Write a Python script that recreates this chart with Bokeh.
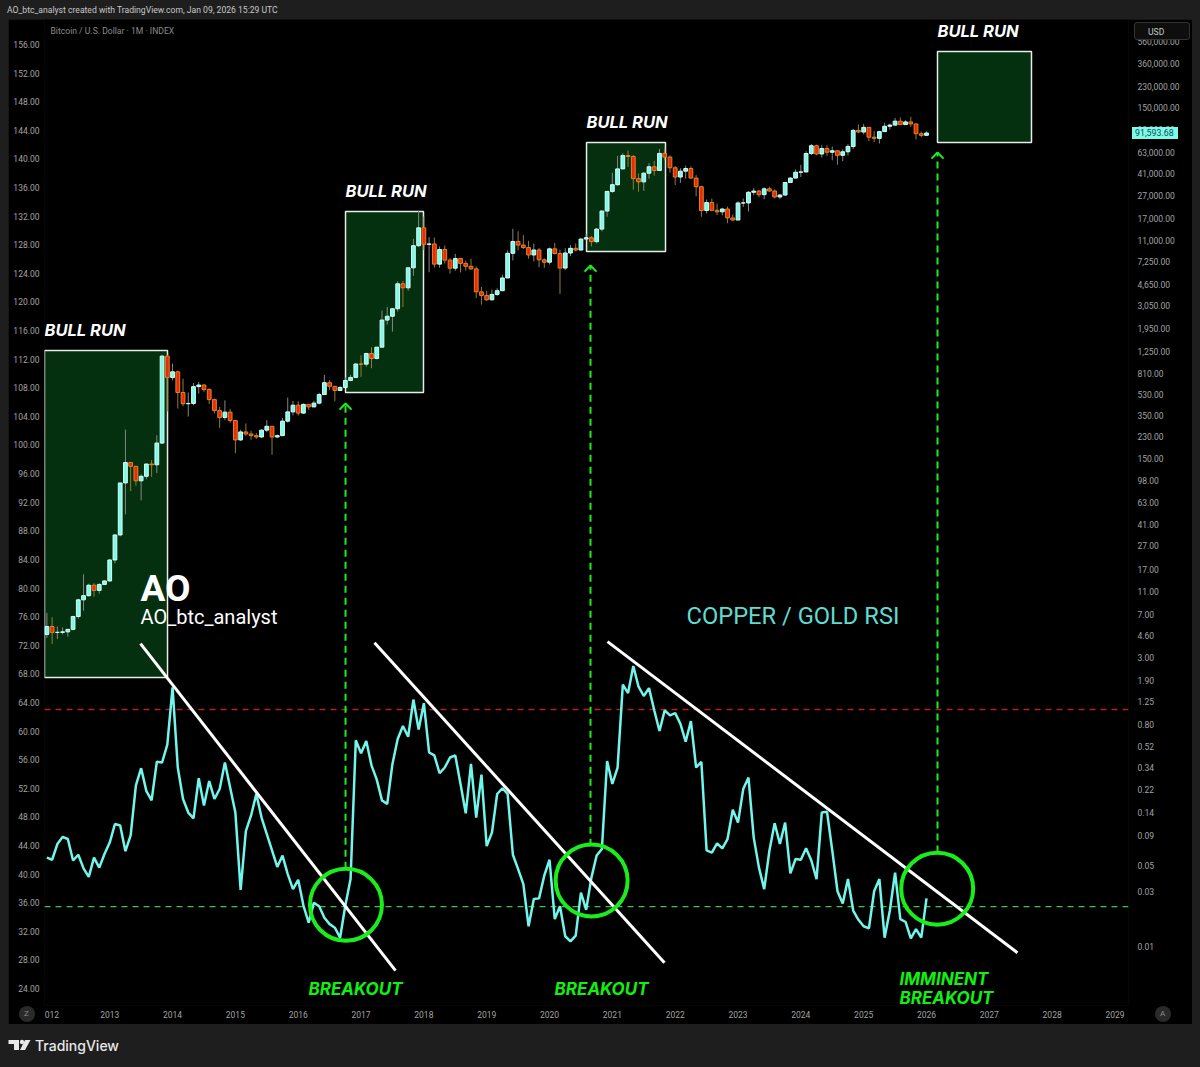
from bokeh.core.properties import value
from bokeh.embed import file_html
from bokeh.layouts import column
from bokeh.models import (Div, FixedTicker, Label, LinearAxis, LogAxis, LogScale,
                          NumeralTickFormatter, Range1d, Span)
from bokeh.plotting import figure
from bokeh.resources import INLINE

# monthly BTC candles, Jan 2012 .. Jan 2026
candle_open = [
    4.7, 5.5, 4.9, 4.9, 4.95, 5.2, 6.7, 9.3, 10.1, 12.4, 11.2, 12.6,
    13.5, 20.4, 33.4, 93, 139, 129, 97, 106, 135, 133, 204, 1130,
    741, 830, 552, 443, 445, 620, 640, 586, 480, 387, 338, 375,
    318, 217, 254, 244, 236, 230, 263, 284, 230, 236, 314, 377,
    430, 368, 437, 416, 448, 530, 670, 624, 575, 609, 700, 743,
    968, 965, 1190, 1080, 1348, 2300, 2480, 2875, 4700, 4340, 6440, 9950,
    14150, 10220, 10300, 6920, 9240, 7490, 6390, 7730, 7020, 6630, 6300, 4010,
    3740, 3430, 3810, 4100, 5270, 8570, 10820, 10080, 9600, 8290, 9150, 7540,
    7190, 9350, 8530, 6410, 8620, 9450, 9140, 11350, 11650, 10780, 13800, 19700,
    29000, 33100, 45200, 58800, 57700, 37300, 35000, 41500, 47100, 43800, 61300, 57000,
    46200, 38500, 43200, 45500, 37700, 31800, 19900, 23300, 20000, 19400, 20500, 17200,
    16500, 23100, 23100, 28500, 29200, 27200, 30500, 29200, 26000, 27000, 34600, 37700,
    42300, 42600, 61200, 71300, 60600, 67500, 62700, 64600, 59000, 63300, 70300, 96400,
    93400, 102400, 84400, 82500, 94200, 104600, 107100, 115700, 108200, 114000, 109500, 90400,
    87500,
]
candle_high = [
    7.2, 6.6, 5.5, 5.4, 5.2, 6.8, 9.5, 15.4, 12.8, 12.9, 12.9, 13.7,
    20.7, 33.6, 93, 266, 140, 130, 110, 136, 146, 238, 1163, 1160,
    977, 850, 726, 552, 665, 680, 650, 600, 490, 415, 473, 400,
    320, 265, 300, 260, 248, 268, 320, 285, 242, 335, 500, 467,
    465, 445, 440, 470, 550, 780, 704, 625, 630, 740, 780, 980,
    1150, 1210, 1350, 1350, 2780, 2980, 2900, 4950, 4980, 6470, 11400, 19800,
    17700, 11800, 11700, 9800, 10000, 7780, 8480, 7780, 7420, 7700, 6600, 4420,
    4100, 4200, 4310, 5640, 9080, 13900, 13200, 12300, 10950, 10370, 9520, 7750,
    9590, 10500, 9190, 9470, 10080, 10390, 11450, 12470, 12050, 14100, 19900, 29300,
    41900, 58300, 61700, 64900, 59500, 41300, 42400, 50500, 52900, 67000, 69000, 59100,
    47900, 45800, 48200, 47400, 40000, 32400, 24700, 25200, 22800, 21000, 21500, 18400,
    23900, 25200, 29200, 31000, 29800, 31400, 31800, 30200, 27500, 34800, 38400, 44700,
    48900, 64000, 73800, 72800, 71900, 72000, 70000, 65000, 66500, 73600, 99600, 108300,
    109300, 102700, 95000, 95500, 111900, 110400, 123200, 124500, 117900, 126000, 110600, 94500,
    94800,
]
candle_low = [
    4.4, 3.9, 4.3, 4.7, 4.5, 5.1, 6.4, 7.5, 9.9, 9.9, 10.5, 12.5,
    13.2, 19.1, 32.5, 50, 79, 88, 66, 100, 105, 113, 200, 380,
    700, 403, 420, 344, 430, 540, 560, 440, 365, 275, 320, 305,
    167, 212, 235, 218, 222, 225, 253, 162, 225, 235, 305, 352,
    350, 365, 393, 413, 436, 530, 580, 465, 570, 605, 690, 735,
    750, 920, 890, 1060, 1340, 2100, 1830, 2720, 2980, 4100, 5500, 9700,
    9100, 5900, 6450, 6450, 7000, 5750, 6080, 5880, 6100, 6200, 3550, 3120,
    3350, 3380, 3700, 4090, 5270, 7450, 9100, 9320, 7700, 7300, 6500, 6430,
    6860, 8400, 3850, 6150, 8100, 8900, 9000, 11100, 9820, 10400, 13200, 17600,
    28100, 32400, 45000, 47000, 30000, 28800, 29300, 37300, 39600, 43300, 53500, 42000,
    32900, 34300, 37200, 37600, 26300, 17600, 18800, 19600, 18200, 18100, 15500, 16300,
    16500, 21400, 19500, 26900, 25800, 24800, 28900, 25300, 24900, 26600, 34100, 37600,
    38500, 41900, 59100, 59100, 56500, 58400, 53500, 49000, 52700, 58900, 66800, 91300,
    89200, 78300, 76600, 74500, 93400, 98200, 105100, 107300, 107200, 103500, 80600, 84400,
    86700,
]
candle_close = [
    5.5, 4.9, 4.9, 4.95, 5.2, 6.7, 9.3, 10.1, 12.4, 11.2, 12.6, 13.5,
    20.4, 33.4, 93, 139, 129, 97, 106, 135, 133, 204, 1130, 741,
    830, 552, 443, 445, 620, 640, 586, 480, 387, 338, 375, 318,
    217, 254, 244, 236, 230, 263, 284, 230, 236, 314, 377, 430,
    368, 437, 416, 448, 530, 670, 624, 575, 609, 700, 743, 968,
    965, 1190, 1080, 1348, 2300, 2480, 2875, 4700, 4340, 6440, 9950, 14150,
    10220, 10300, 6920, 9240, 7490, 6390, 7730, 7020, 6630, 6300, 4010, 3740,
    3430, 3810, 4100, 5270, 8570, 10820, 10080, 9600, 8290, 9150, 7540, 7190,
    9350, 8530, 6410, 8620, 9450, 9140, 11350, 11650, 10780, 13800, 19700, 29000,
    33100, 45200, 58800, 57700, 37300, 35000, 41500, 47100, 43800, 61300, 57000, 46200,
    38500, 43200, 45500, 37700, 31800, 19900, 23300, 20000, 19400, 20500, 17200, 16500,
    23100, 23100, 28500, 29200, 27200, 30500, 29200, 26000, 27000, 34600, 37700, 42300,
    42600, 61200, 71300, 60600, 67500, 62700, 64600, 59000, 63300, 70300, 96400, 93400,
    102400, 84400, 82500, 94200, 104600, 107100, 115700, 108200, 114000, 109500, 90400, 87500,
    91593.68,
]

# copper / gold RSI, same months, read against the left scale
rsi = [
    42.3, 42.0, 44.2, 45.2, 44.9, 41.9, 42.7, 40.8, 39.6, 42.3, 40.9, 42.8,
    44.4, 47.0, 46.8, 43.2, 45.4, 52.4, 54.8, 51.6, 50.3, 55.7, 55.6, 58.1,
    66.1, 54.9, 50.5, 48.6, 47.8, 53.4, 49.6, 53.0, 50.5, 51.9, 55.6, 52.1,
    48.6, 37.8, 46.0, 48.2, 51.2, 47.9, 45.6, 43.3, 41.0, 42.6, 40.0, 37.9,
    39.2, 35.6, 33.2, 36.0, 35.5, 33.9, 33.0, 32.5, 31.1, 35.6, 39.3, 58.7,
    56.9, 58.6, 55.2, 53.2, 50.3, 49.8, 55.4, 58.9, 60.7, 59.2, 64.4, 60.2,
    63.9, 57.0, 56.6, 54.1, 54.9, 56.3, 56.6, 52.6, 48.5, 55.4, 47.9, 53.9,
    43.9, 45.8, 51.2, 52.0, 51.2, 42.7, 40.7, 38.6, 32.7, 36.5, 36.6, 39.8,
    42.0, 33.7, 35.5, 31.3, 30.6, 31.4, 37.4, 35.0, 39.5, 42.6, 43.5, 55.8,
    52.6, 54.9, 66.5, 65.3, 69.1, 66.2, 64.9, 66.0, 62.9, 60.0, 62.9, 62.2,
    62.5, 61.0, 58.5, 61.4, 54.9, 55.7, 43.3, 43.0, 44.3, 43.6, 44.9, 49.0,
    47.2, 51.9, 53.5, 45.1, 40.9, 37.9, 43.3, 47.1, 44.2, 47.2, 40.1, 42.1,
    42.0, 43.6, 41.9, 39.3, 48.6, 48.7, 43.3, 37.6, 35.9, 39.3, 34.9, 33.6,
    32.7, 32.4, 37.6, 39.3, 31.1, 34.9, 40.2, 33.7, 33.3, 31.0, 32.3, 31.1,
    36.6,
]
months = [2012 + i / 12 for i in range(len(candle_close))]

year_ticks = [2012.08] + list(range(2013, 2030))
year_labels = {2012.08: "012"}
left_ticks = list(range(24, 160, 4))
usd_ticks = [
    0.01, 0.03, 0.05, 0.09, 0.14, 0.22, 0.34, 0.52, 0.8, 1.25, 1.9, 3, 4.6, 7, 11, 17, 27, 41, 63, 98, 150,
    230, 350, 530, 810, 1250, 1950, 3050, 4650, 7250, 11000, 17000, 27000, 41000, 63000, 98000, 150000,
    230000, 360000, 560000,
]
last_price = 91593.68

# bull run boxes (usd scale)
box_left = [2011.962, 2016.753, 2020.589, 2026.175]
box_right = [2013.92, 2017.994, 2021.846, 2027.671]
box_top = [1262, 19500, 75900, 456000]
box_bottom = [2.01, 552, 8880, 75900]

# trend lines, arrows and circles (left scale)
trend_x = [[2013.49, 2017.549], [2017.214, 2021.83], [2020.923, 2027.448]]
trend_y = [[72.22, 26.49], [72.36, 27.6], [72.5, 29.0]]
arrow_x = [2016.753, 2020.652, 2026.175]
arrow_tip = [105.8, 125.1, 140.9]
arrow_foot = [40.75, 43.97, 43.0]
circle_x = [2016.76, 2020.67, 2026.17]
circle_y = [35.7, 39.1, 37.95]
red_level = 63.0
green_level = 35.44

GREEN = "#1aee1a"
AXIS_GREY = "#a3a3a3"

p = figure(width=1184, height=1005, output_backend="svg", toolbar_location=None, margin=(0, 8, 0, 8),
           x_range=Range1d(2011.962, 2029.215), y_range=Range1d(21.62, 159.5),
           x_axis_location=None, y_axis_location=None,
           min_border_left=36, min_border_right=64, min_border_top=0, min_border_bottom=19,
           background_fill_color="#000000", border_fill_color="#000000", outline_line_color=None)
p.grid.visible = False
p.extra_y_ranges = {"usd": Range1d(0.00315, 857000)}
p.extra_y_scales = {"usd": LogScale()}


def style_axis(ax):
    ax.axis_line_color = None
    ax.major_tick_line_color = None
    ax.minor_tick_line_color = None
    ax.major_tick_out = 0
    ax.major_tick_in = 0
    ax.minor_tick_out = 0
    ax.major_label_text_color = AXIS_GREY
    ax.major_label_text_font = "Roboto"
    ax.major_label_text_font_size = "8.5px"


left_axis = LinearAxis(ticker=FixedTicker(ticks=left_ticks), formatter=NumeralTickFormatter(format="0.00"),
                       major_label_standoff=5)
style_axis(left_axis)
p.add_layout(left_axis, "left")

right_axis = LogAxis(y_range_name="usd", ticker=FixedTicker(ticks=usd_ticks),
                     formatter=NumeralTickFormatter(format="0,0.00"), major_label_standoff=9)
style_axis(right_axis)
p.add_layout(right_axis, "right")

bottom_axis = LinearAxis(ticker=FixedTicker(ticks=year_ticks), major_label_overrides=year_labels,
                         major_label_standoff=5)
style_axis(bottom_axis)
p.add_layout(bottom_axis, "below")

# level lines go under everything
p.add_layout(Span(location=red_level, dimension="width", line_color="#b81f1f", line_dash="6 5", line_width=1.5, level="underlay"))
p.add_layout(Span(location=green_level, dimension="width", line_color="#35c552", line_dash="6 5", line_width=1.3, level="underlay"))

p.quad(left=box_left, right=box_right, top=box_top, bottom=box_bottom, y_range_name="usd",
       fill_color="#04300f", line_color="#e6ece6", line_width=1.5)

# candles
up = [i for i in range(len(months)) if candle_close[i] >= candle_open[i]]
down = [i for i in range(len(months)) if candle_close[i] < candle_open[i]]
for idx, wick, fill, edge in [(up, "#868686", "#7dfaea", "#d8fdf7"), (down, "#8f7f2c", "#f4250f", "#d98a1e")]:
    xs = [months[i] for i in idx]
    p.segment(x0=xs, x1=xs, y0=[candle_low[i] for i in idx], y1=[candle_high[i] for i in idx],
              y_range_name="usd", line_color=wick, line_width=1)
    p.vbar(x=xs, width=0.06, bottom=[min(candle_open[i], candle_close[i]) for i in idx],
           top=[max(candle_open[i], candle_close[i]) for i in idx], y_range_name="usd",
           fill_color=fill, line_color=edge, line_width=1)

# arrows up from the circles
p.segment(x0=arrow_x, x1=arrow_x, y0=arrow_foot, y1=arrow_tip, line_color=GREEN, line_width=2, line_dash="7 5")
p.multi_line(xs=[[x - 0.095, x, x + 0.095] for x in arrow_x],
             ys=[[t - 0.85, t, t - 0.85] for t in arrow_tip], line_color=GREEN, line_width=2)

p.line(months, rsi, line_color="#72f5ea", line_width=2.5)
p.multi_line(xs=trend_x, ys=trend_y, line_color="#ffffff", line_width=3)
p.scatter(circle_x, circle_y, marker="circle", size=72, fill_color=None, line_color=GREEN, line_width=4)

# chart texts
p.text(x=box_left, y=box_top, text=["BULL RUN"] * 4, y_range_name="usd", y_offset=-21, text_color="#ffffff",
       text_font=value("Inter"), text_font_style="bold italic", text_font_size="16.5px", text_baseline="middle")
p.text(x=[2016.164, 2020.08, 2025.57, 2025.57], y=[23.97, 23.97, 25.37, 22.71],
       text=["BREAKOUT", "BREAKOUT", "IMMINENT", "BREAKOUT"], text_color="#12f012",
       text_font=value("Inter"), text_font_style="bold italic", text_font_size="17px", text_baseline="middle")
p.text(x=[2013.49], y=[79.9], text=["AO"], text_color="#ffffff", text_font=value("Roboto"),
       text_font_style="bold", text_font_size="37px", text_baseline="middle")
p.text(x=[2013.49], y=[75.9], text=["AO_btc_analyst"], text_color="#ffffff", text_font=value("Roboto"),
       text_font_size="20px", text_baseline="middle")
p.text(x=[2022.18], y=[76.14], text=["COPPER / GOLD RSI"], text_color="#5fdcd2", text_font=value("Roboto"),
       text_font_size="23.7px", text_baseline="middle")

# screen units on a label count from the frame's left and bottom edge
p.add_layout(Label(x=6, y=975, x_units="screen", y_units="screen", text="Bitcoin / U.S. Dollar · 1M · INDEX",
                   text_color="#8a8a8a", text_font="Roboto", text_font_size="8.6px", text_baseline="middle"))

header = Div(text='<div style="position:absolute;left:7px;top:5px;color:#c8c8c8;font:8.6px Roboto;white-space:nowrap">'
                  "AO_btc_analyst created with TradingView.com, Jan 09, 2026 15:29 UTC</div>",
             width=1200, height=19, margin=0)


# labels get clipped outside the frame, so the things sitting on the axes are html on top of the figure
def overlay(left, top, width, height, text, color, bg, radius=0, border=None, pad=0, size=8.6):
    edge = f"border:1px solid {border};box-sizing:border-box;" if border else ""
    return (f'<div style="position:absolute;left:{left}px;top:{top - 1024}px;width:{width}px;height:{height}px;'
            f"line-height:{height}px;background:{bg};border-radius:{radius}px;{edge}color:{color};"
            f'font:{size}px/{height}px Roboto;padding-left:{pad}px;box-sizing:border-box;white-space:nowrap">{text}</div>')


on_axes = (overlay(1134, 22, 56, 18, "USD", "#c8c8c8", "#0e0e0e", radius=3, border="#333333", pad=13)
           + overlay(1132, 127, 46, 12, f"{last_price:,.2f}", "#0c4f4f", "#7dfaea", pad=3, size=8.8)
           + overlay(19, 1006, 16, 16, "Z", "#8a8a8a", "#2a2a2a", radius=8, pad=5, size=8)
           + overlay(1155, 1006, 16, 16, "A", "#8a8a8a", "#2a2a2a", radius=8, pad=5, size=8))

logo = ('<svg style="position:absolute;left:8px;top:15px" width="23" height="12" fill="#e8e8e8">'
        '<path d="M0.5 1H11V11H6V5H0.5Z"/><circle cx="14" cy="3" r="2.2"/><path d="M17 1H22.5L17 11H12Z"/></svg>')
footer = Div(text=on_axes + logo + '<div style="position:absolute;left:35px;top:13px;color:#e8e8e8;'
                                   'font:500 14px Inter;white-space:nowrap">TradingView</div>',
             width=1200, height=43, margin=0)

page = column(header, p, footer, spacing=0)

template = """{% block postamble %}<style>html, body { background: #1e1e1e; margin: 0; }</style>{% endblock %}
"""
open("out.html", "w").write(file_html(page, INLINE, template=template))
